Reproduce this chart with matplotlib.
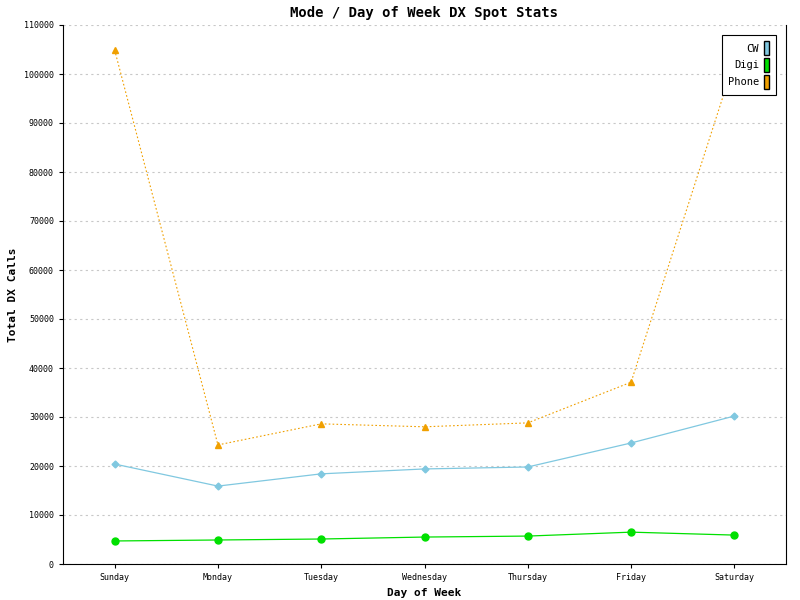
import matplotlib
matplotlib.use("Agg")
import matplotlib.pyplot as plt
from matplotlib.patches import Patch

days = ["Sunday", "Monday", "Tuesday", "Wednesday", "Thursday", "Friday", "Saturday"]
cw = [20400, 15900, 18400, 19400, 19800, 24700, 30200]
digi = [4700, 4900, 5100, 5500, 5700, 6500, 5900]
phone = [104900, 24300, 28600, 28000, 28800, 37100, 102600]
yticks = list(range(0, 110001, 10000))

fig = plt.figure(figsize=(8, 6), dpi=100)
ax = fig.add_axes([63/800, 36/600, 723/800, 539/600])
x = range(len(days))
ax.plot(x, phone, color="#f0a000", ls=(0, (1.5, 2)), lw=0.8, marker="^", ms=5, zorder=3)
ax.plot(x, cw, color="#80c8e0", lw=0.9, marker="D", ms=3.5, zorder=3)
ax.plot(x, digi, color="#00e000", lw=0.9, marker="o", ms=5, zorder=3)
ax.set_xlim(-0.5, 6.5)
ax.set_ylim(0, 110000)
ax.set_xticks(list(x))
ax.set_xticklabels(days, fontsize=6, family="DejaVu Sans Mono")
ax.set_yticks(yticks)
ax.set_yticklabels([str(v) for v in yticks], fontsize=6, family="DejaVu Sans Mono")
ax.yaxis.grid(True, color="#c8c8c8", ls=(0, (2, 3)), lw=0.8)
ax.set_axisbelow(True)
ax.spines["top"].set_visible(False)
ax.tick_params(length=3)
ax.set_title("Mode / Day of Week DX Spot Stats", fontsize=10, family="DejaVu Sans Mono", fontweight="bold")
ax.set_xlabel("Day of Week", fontsize=8, family="DejaVu Sans Mono", fontweight="bold")
ax.set_ylabel("Total DX Calls", fontsize=8, family="DejaVu Sans Mono", fontweight="bold")
handles = [Patch(facecolor="#80c8e0", edgecolor="black"), Patch(facecolor="#00e000", edgecolor="black"), Patch(facecolor="#f0a000", edgecolor="black")]
leg = ax.legend(handles, ["CW", "Digi", "Phone"], loc="upper right", bbox_to_anchor=(0.993, 0.991),
                prop={"family": "DejaVu Sans Mono", "size": 7.5}, markerfirst=False, fancybox=False,
                edgecolor="black", framealpha=1, handlelength=0.5, handleheight=1.7,
                handletextpad=0.5, labelspacing=0.25, borderpad=0.6)
leg.get_frame().set_linewidth(0.8)
leg.set_zorder(10)
fig.savefig("out.png")
